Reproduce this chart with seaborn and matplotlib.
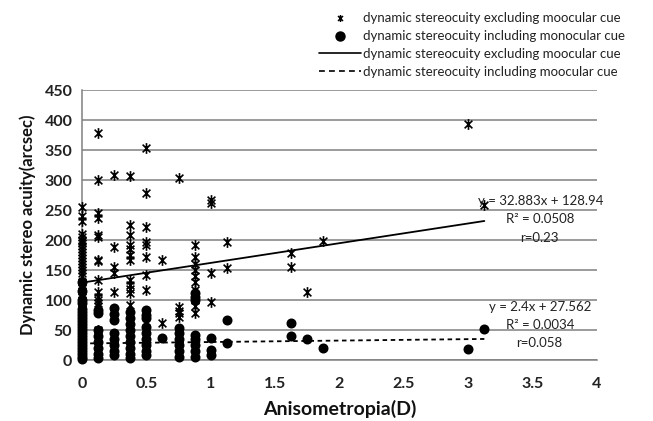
import numpy as np
import pandas as pd
import matplotlib
matplotlib.use("Agg")
import matplotlib.pyplot as plt
from matplotlib.path import Path
from matplotlib.lines import Line2D
import seaborn as sns

# ---------------- data ----------------
excl_x = ([0.0] * 44 + [0.125] * 15 + [0.25] * 5 + [0.375] * 12 + [0.5] * 9 + [0.625] * 2 +
          [0.75] * 5 + [0.875] * 11 + [1.0] * 4 + [1.125] * 2 + [1.625] * 2 + [1.75] + [1.875] +
          [3.0] + [3.125])
excl_y = ([255, 240, 232, 210, 205, 200, 198, 195, 190, 185, 180, 175, 170, 165, 160, 155, 150,
           145, 140, 130, 125, 120, 115, 110, 105, 100, 95, 90, 85, 80, 75, 70, 65, 60, 55, 50,
           45, 40, 35, 30, 25, 20, 15, 10] +
          [378, 300, 245, 236, 208, 205, 167, 165, 133, 113, 105, 100, 95, 90, 50] +
          [308, 188, 155, 145, 113] +
          [307, 225, 208, 192, 185, 175, 167, 133, 125, 118, 112, 92] +
          [353, 278, 222, 197, 192, 172, 142, 117, 53] +
          [167, 62] +
          [303, 88, 82, 78, 72] +
          [192, 172, 160, 150, 140, 130, 117, 108, 100, 90, 78] +
          [267, 262, 145, 97] +
          [197, 153] +
          [178, 155] +
          [113] +
          [198] +
          [393] +
          [258])

incl_x = ([0.0] * 22 + [0.125] * 8 + [0.25] * 8 + [0.375] * 9 + [0.5] * 9 + [0.625] +
          [0.75] * 6 + [0.875] * 8 + [1.0] * 3 + [1.125] * 2 + [1.625] * 2 + [1.75] + [1.875] +
          [3.0] + [3.125])
incl_y = ([130, 115, 100, 95, 85, 80, 75, 70, 65, 60, 55, 50, 45, 40, 35, 30, 25, 20, 15, 10, 5, 2] +
          [83, 78, 50, 40, 30, 20, 10, 3] +
          [87, 77, 67, 45, 35, 25, 15, 8] +
          [80, 70, 60, 50, 40, 30, 20, 10, 3] +
          [83, 75, 70, 55, 45, 35, 25, 15, 8] +
          [37] +
          [53, 45, 35, 25, 15, 5] +
          [112, 105, 100, 42, 35, 25, 15, 5] +
          [37, 17, 8] +
          [67, 28] +
          [62, 40] +
          [35] +
          [20] +
          [18] +
          [52])

fit_slope = [32.883, 2.4]
fit_intercept = [128.94, 27.562]
fit_xrange = [0.0, 3.125]

legend_labels = ["dynamic stereocuity excluding moocular cue",
                 "dynamic stereocuity including monocular cue",
                 "dynamic stereocuity excluding moocular cue",
                 "dynamic stereocuity including moocular cue"]
annot_texts = ["y = 32.883x + 128.94", "R\u00b2 = 0.0508", "r=0.23",
               "y = 2.4x + 27.562", "R\u00b2 = 0.0034", "r=0.058"]

x_ticks = [0, 0.5, 1, 1.5, 2, 2.5, 3, 3.5, 4]
y_ticks = list(range(0, 451, 50))

# ---------------- style ----------------
sns.set_theme(style="white")
plt.rcParams['font.family'] = ['Lato', 'DejaVu Sans']

fig = plt.figure(figsize=(6.53, 4.21), dpi=100)
ax = fig.add_axes([82 / 653, 1 - 360 / 421, (597 - 82) / 653, (360 - 90) / 421])

star = Path([(0, -1), (0, 1), (-0.72, -0.72), (0.72, 0.72), (-0.72, 0.72), (0.72, -0.72)],
            [Path.MOVETO, Path.LINETO, Path.MOVETO, Path.LINETO, Path.MOVETO, Path.LINETO])

df_ex = pd.DataFrame({"x": excl_x, "y": excl_y})
df_in = pd.DataFrame({"x": incl_x, "y": incl_y})

sns.scatterplot(data=df_ex, x="x", y="y", marker=star, s=60, color="black",
                edgecolor="black", linewidth=1.2, ax=ax, zorder=3, legend=False, clip_on=False)
sns.scatterplot(data=df_in, x="x", y="y", marker="o", s=52, color="black",
                edgecolor="black", linewidth=0, ax=ax, zorder=4, legend=False, clip_on=False)

xs = np.array(fit_xrange)
sns.lineplot(x=xs, y=fit_slope[0] * xs + fit_intercept[0], color="black", lw=1.3, ax=ax, zorder=5)
sns.lineplot(x=xs, y=fit_slope[1] * xs + fit_intercept[1], color="black", lw=1.3,
             linestyle=(0, (2.5, 2)), ax=ax, zorder=5)

ax.set_xlim(0, 4)
ax.set_ylim(0, 450)
ax.set_xticks(x_ticks)
ax.set_xticklabels([f"{t:g}" for t in x_ticks])
ax.set_yticks(y_ticks)
ax.yaxis.grid(True, color="#808080", lw=1.1)
ax.xaxis.grid(False)
ax.set_axisbelow(True)
for s in ["top", "right"]:
    ax.spines[s].set_visible(False)
for s in ["left", "bottom"]:
    ax.spines[s].set_color("#808080")
    ax.spines[s].set_linewidth(1.1)
ax.tick_params(axis="both", which="major", direction="out", length=4, width=1.0,
               color="#808080", labelsize=11.5, labelcolor="#222222", pad=3)
ax.tick_params(axis="x", pad=8)
for lab in ax.get_xticklabels() + ax.get_yticklabels():
    lab.set_fontweight("bold")

ax.set_xlabel("Anisometropia(D)", fontsize=14, fontweight="bold", color="#111111", labelpad=7)
ax.set_ylabel("Dynamic stereo acuity(arcsec)", fontsize=12, fontweight="bold", color="#111111",
              labelpad=6)

# annotations
ann_pos = [(3.565, 265), (3.56, 235), (3.55, 203), (3.56, 88), (3.56, 58), (3.55, 28)]
for (px, py), t in zip(ann_pos, annot_texts):
    ax.text(px, py, t, ha="center", va="center", fontsize=9.5, color="#222222", zorder=6)

# legend
handles = [
    Line2D([], [], marker=star, linestyle="none", color="black", markersize=5, markeredgewidth=1.1),
    Line2D([], [], marker="o", linestyle="none", color="black", markersize=6.5),
    Line2D([], [], color="black", lw=1.2),
    Line2D([], [], color="black", lw=1.2, linestyle=(0, (3.5, 2.5))),
]
fig.legend(handles, legend_labels, loc="upper left", bbox_to_anchor=(310 / 653, 1 - 3 / 421),
           frameon=False, fontsize=9.5, handlelength=3.2, handletextpad=0.15,
           labelspacing=0.45, borderpad=0.2, labelcolor="#222222")

fig.savefig("out.png", dpi=100)
